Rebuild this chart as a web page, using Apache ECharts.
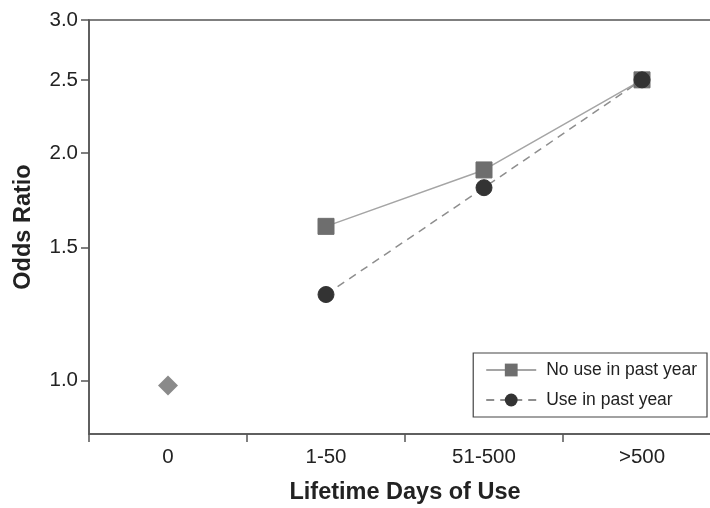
<!DOCTYPE html>
<html>
<head>
<meta charset="utf-8">
<script src="https://cdn.jsdelivr.net/npm/echarts@6.0.0/dist/echarts.min.js"></script>
<style>
  html, body { margin: 0; padding: 0; background: #fff; }
  #chart { width: 710px; height: 508px; }
</style>
</head>
<body>
<div id="chart"></div>
<script>
const categories = ["0", "1-50", "51-500", ">500"];
const referenceValues = [0.985, null, null, null];
const noUseValues = [null, 1.6, 1.9, 2.5];
const useValues = [null, 1.3, 1.8, 2.5];
const yTicks = [1.0, 1.5, 2.0, 2.5, 3.0];

const FONT = "Liberation Sans, Arial, sans-serif";

const chart = echarts.init(document.getElementById("chart"), null, { renderer: "canvas" });

chart.setOption({
    animation: false,
    backgroundColor: "#fff",
    textStyle: { fontFamily: FONT },
    grid: {
        left: 89, top: 20, width: 632, height: 414,
        outerBoundsMode: "none",
        containLabel: false,
        show: true, borderColor: "#555", borderWidth: 1.5
    },
    legend: {
        right: 3, top: 353,
        orient: "vertical",
        data: ["No use in past year", "Use in past year"],
        backgroundColor: "#fff",
        borderColor: "#444", borderWidth: 1.2, borderRadius: 0,
        padding: [8, 10, 8, 12],
        itemWidth: 50, itemHeight: 16, itemGap: 12,
        textStyle: { fontFamily: FONT, fontSize: 17.5, color: "#222", padding: [0, 0, 0, 5] }
    },
    xAxis: {
        type: "category",
        data: categories,
        boundaryGap: true,
        name: "Lifetime Days of Use",
        nameLocation: "middle",
        nameGap: 47,
        nameTextStyle: { fontFamily: FONT, fontSize: 23.5, fontWeight: "bold", color: "#222" },
        axisLine: { show: true, lineStyle: { color: "#555", width: 1.5 } },
        axisTick: { show: true, inside: false, alignWithLabel: false, interval: 0, length: 8, lineStyle: { color: "#555", width: 1.5 } },
        axisLabel: { fontFamily: FONT, fontSize: 20.5, color: "#222", margin: 13 },
        splitLine: { show: false }
    },
    yAxis: {
        type: "log",
        logBase: 10,
        min: 0.85, max: 3.0,
        name: "Odds Ratio",
        nameLocation: "middle",
        nameGap: 53,
        nameTextStyle: { fontFamily: FONT, fontSize: 23.5, fontWeight: "bold", color: "#222" },
        axisLine: { show: true, lineStyle: { color: "#555", width: 1.5 } },
        axisTick: { show: true, length: 8, customValues: yTicks, lineStyle: { color: "#555", width: 1.5 } },
        axisLabel: {
            fontFamily: FONT, fontSize: 20.5, color: "#222", margin: 11,
            customValues: yTicks,
            formatter: (v) => Number(v).toFixed(1)
        },
        splitLine: { show: false },
        minorTick: { show: false }
    },
    series: [
        {
            name: "Reference",
            type: "line",
            data: referenceValues,
            symbol: "diamond",
            symbolSize: 20,
            itemStyle: { color: "#8a8a8a" },
            lineStyle: { width: 0 }
        },
        {
            name: "No use in past year",
            type: "line",
            data: noUseValues,
            symbol: "rect",
            symbolSize: 16,
            itemStyle: { color: "#6e6e6e", borderColor: "#6e6e6e" },
            lineStyle: { color: "#a5a5a5", width: 1.5, type: "solid" }
        },
        {
            name: "Use in past year",
            type: "line",
            data: useValues,
            symbol: "circle",
            symbolSize: 16,
            z: 3,
            itemStyle: { color: "#333", borderColor: "#333" },
            lineStyle: { color: "#8e8e8e", width: 1.5, type: [8, 6] }
        }
    ]
});
</script>
</body>
</html>
